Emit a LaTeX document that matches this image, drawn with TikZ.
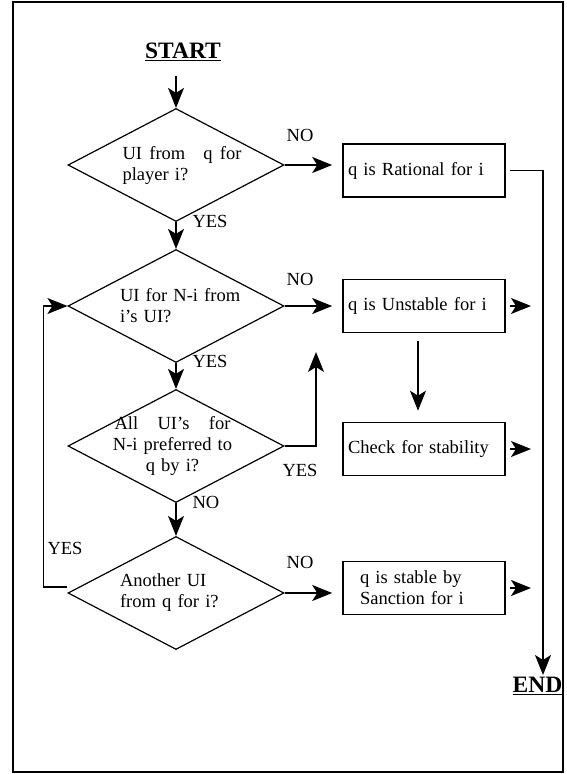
\documentclass[tikz,border=0pt]{standalone}
\usepackage{fontspec}
\setmainfont{Liberation Serif}
\usetikzlibrary{shapes.geometric,arrows.meta}

\tikzset{
  decision/.style={diamond, draw, line width=1.2pt, minimum width=216pt, minimum height=113pt, inner sep=0pt},
  dtext/.style={align=left, inner sep=0pt},
  outcome/.style={draw, line width=1.6pt, minimum width=162pt, minimum height=53pt, inner xsep=5pt, text width=152pt, align=left},
  arr/.style={line width=1.5pt, -{Stealth[length=20pt,width=16pt,inset=5pt]}},
  ans/.style={inner sep=0pt},
  term/.style={inner sep=0pt, font=\fontsize{23.5}{26}\selectfont\bfseries}
}

\begin{document}
\begin{tikzpicture}[x=1pt, y=-1pt, font=\fontsize{18.5}{21}\selectfont]
  \useasboundingbox (0,0) rectangle (566,774);
  % Frame
  \draw[line width=1.6pt] (13,2) rectangle (563,772);

  % Start and end
  \node[term] (start) at (183,52) {\underline{START}};
  \node[term] (fin) at (537.5,686) {\underline{END}};

  % Decisions
  \node[decision] (d1) at (176,165) {};
  \node[decision] (d2) at (176,306) {};
  \node[decision] (d3) at (176,446) {};
  \node[decision] (d4) at (176,593) {};
  \node[dtext, text width=124pt, xshift=8.5pt] (d1txt) at (d1) {\makebox[119pt]{UI\hspace{0.4em}from\hfill q\hspace{0.4em}for}\\player i?};
  \node[dtext, text width=124pt, xshift=6pt] (d2txt) at (d2) {UI for N-i from\\i’s UI?};
  \node[dtext, align=center, text width=124pt, xshift=-3.5pt] (d3txt) at (d3) {\makebox[116pt]{All\hfill UI’s\hfill for}\\N-i preferred to\\q by i?};
  \node[dtext, text width=124pt, xshift=6pt] (d4txt) at (d4) {Another UI\\from q for i?};

  % Outcomes
  \node[outcome] (b1) at (424,170.5) {q is Rational for i};
  \node[outcome] (b2) at (424,306) {q is Unstable for i};
  \node[outcome] (b3) at (424,449) {Check for stability};
  \node[outcome, text width=128pt] (b4) at (424,588) {q is stable by\\Sanction for i};

  % Free ends
  \coordinate (endtip) at (543,675);
  \coordinate (up) at (316,352);
  \coordinate (o2) at (531,306);
  \coordinate (o3) at (531,449);
  \coordinate (o4) at (531,588);

  % Main flow
  \draw[arr, shorten <=15pt] (start.south -| d1.north) -- (d1.north);
  \draw[arr] (d1.south) -- (d2.north);
  \draw[arr] (d2.south) -- (d3.north);
  \draw[arr] (d3.south) -- (d4.north);

  % To outcomes
  \draw[arr, shorten >=10pt] (d1.east) -- (b1.west |- d1.east);
  \draw[arr, shorten >=10pt] (d2.east) -- (b2.west);
  \draw[arr, shorten >=10pt] (d4.east) -- (b4.west |- d4.east);
  \draw[arr] (d3.east) -| (up);
  \draw[arr, shorten <=8pt, shorten >=11pt] ([xshift=-6pt]b2.south) -- ([xshift=-6pt]b3.north);

  % Outputs
  \draw[arr, shorten <=4pt] (b1.east) -| (endtip);
  \draw[arr, shorten <=4pt] (b2.east) -- (o2);
  \draw[arr, shorten <=4pt] (b3.east) -- (o3);
  \draw[arr, shorten <=4pt] (b4.east) -- (o4);

  % Loop back
  \draw[arr] ([yshift=6pt]d4.west) -- ++(-24,0) |- (d2.west);

  % Answers
  \node[ans] (no1) at (300,135) {NO};
  \node[ans] (yes1) at (210,221) {YES};
  \node[ans] (no2) at (300,279) {NO};
  \node[ans] (yes2) at (210,361) {YES};
  \node[ans] (yes3) at (300,470) {YES};
  \node[ans] (no3) at (206,502) {NO};
  \node[ans] (no4) at (300,562) {NO};
  \node[ans] (yes4) at (65,548) {YES};
\end{tikzpicture}
\end{document}
